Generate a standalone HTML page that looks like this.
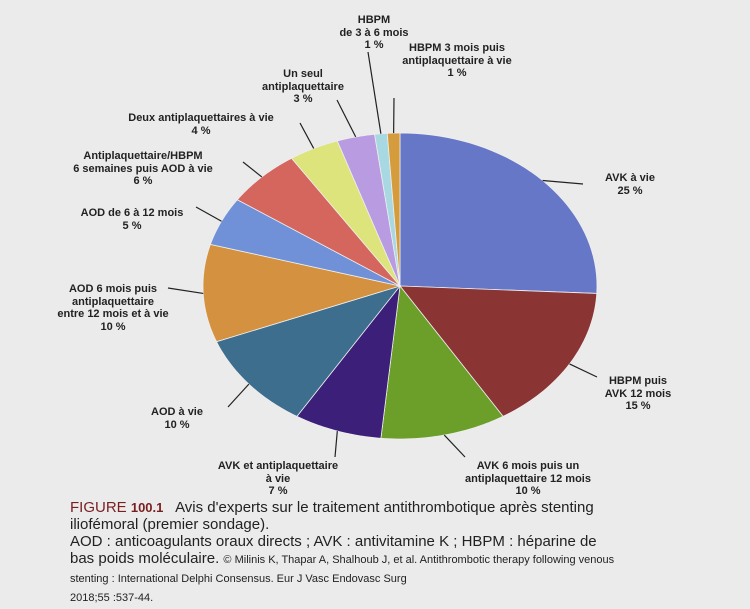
<!DOCTYPE html>
<html><head><meta charset="utf-8"><style>
body{margin:0;background:#ebebeb;}
#wrap{position:relative;width:750px;height:609px;background:#ebebeb;overflow:hidden;font-family:"Liberation Sans",sans-serif;}
.lbl{position:absolute;transform:translateX(-50%);text-align:center;font-size:11px;font-weight:bold;line-height:12.5px;color:#222;white-space:nowrap;}
#cap{position:absolute;left:70px;top:499px;width:552px;font-size:15px;line-height:17px;color:#222;}
#cap .sm{font-size:11px;}
</style></head><body>
<div id="wrap">
<svg id="chart" width="750" height="609" style="position:absolute;left:0;top:0"></svg>
<div id="labels"></div>
<div id="cap"><span style="color:#7a1f1f">FIGURE <b style="font-size:13px">100.1</b></span>&nbsp;&nbsp; Avis d'experts sur le traitement antithrombotique après stenting iliofémoral (premier sondage).<br>AOD : anticoagulants oraux directs ; AVK : antivitamine K ; HBPM : héparine de bas poids moléculaire. <span class="sm">© Milinis K, Thapar A, Shalhoub J, et al. Antithrombotic therapy following venous stenting : International Delphi Consensus. Eur J Vasc Endovasc Surg</span><br><span class="sm" style="line-height:18px">2018;55 :537-44.</span></div>
</div>
<script>
const categories=["AVK à vie","HBPM puis AVK 12 mois","AVK 6 mois puis un antiplaquettaire 12 mois","AVK et antiplaquettaire à vie","AOD à vie","AOD 6 mois puis antiplaquettaire entre 12 mois et à vie","AOD de 6 à 12 mois","Antiplaquettaire/HBPM 6 semaines puis AOD à vie","Deux antiplaquettaires à vie","Un seul antiplaquettaire","HBPM de 3 à 6 mois","HBPM 3 mois puis antiplaquettaire à vie"];
const values=[25,15,10,7,10,10,5,6,4,3,1,1];
const labelLines=[["AVK à vie"],["HBPM puis","AVK 12 mois"],["AVK 6 mois puis un","antiplaquettaire 12 mois"],["AVK et antiplaquettaire","à vie"],["AOD à vie"],["AOD 6 mois puis","antiplaquettaire","entre 12 mois et à vie"],["AOD de 6 à 12 mois"],["Antiplaquettaire/HBPM","6 semaines puis AOD à vie"],["Deux antiplaquettaires à vie"],["Un seul","antiplaquettaire"],["HBPM","de 3 à 6 mois"],["HBPM 3 mois puis","antiplaquettaire à vie"]];
const colors=["#6677c8","#8b3434","#6b9f2a","#3b1f78","#3d6e8e","#d4913f","#7090d8","#d4665e","#dde47c","#b89be0","#a8d8e2","#d49c3c"];
// layout (not data): label centre/top, leader line end
const layout=[[630,172,583,184],[638,375,597,377],[528,460,465,457],[278,460,335,457],[177,406,228,407],[113,283,168,288],[132,207,196,207],[143,150,243,162],[201,112,300,123],[303,68,337,100],[374,14,368,52],[457,42,394,98]];
const cx=400,cy=286,rx=197,ry=153;
const svg=document.getElementById('chart');const NS="http://www.w3.org/2000/svg";
const total=values.reduce((a,b)=>a+b,0);
function pt(a,s){return [cx+rx*s*Math.sin(a),cy-ry*s*Math.cos(a)];}
let a0=0;
values.forEach((v,i)=>{
 const a1=a0+v/total*2*Math.PI;
 let d=`M${cx},${cy}`;
 for(let k=0;k<=40;k++){const p=pt(a0+(a1-a0)*k/40,1);d+=`L${p[0].toFixed(2)},${p[1].toFixed(2)}`;}
 d+='Z';
 const p=document.createElementNS(NS,'path');
 p.setAttribute('d',d);p.setAttribute('fill',colors[i]);p.setAttribute('stroke','#eee');p.setAttribute('stroke-width','0.8');
 
 
 svg.appendChild(p);
 const m=pt((a0+a1)/2,1.0),L=layout[i];
 const ln=document.createElementNS(NS,'line');
 ln.setAttribute('x1',m[0]);ln.setAttribute('y1',m[1]);ln.setAttribute('x2',L[2]);ln.setAttribute('y2',L[3]);
 ln.setAttribute('stroke','#222');ln.setAttribute('stroke-width','1.2');
 
 
 svg.appendChild(ln);
 const div=document.createElement('div');div.className='lbl';
 div.style.left=L[0]+'px';div.style.top=L[1]+'px';
 div.innerHTML=labelLines[i].join('<br>')+'<br>'+values[i]+' %';
 
 
 document.getElementById('labels').appendChild(div);
 a0=a1;
});
</script>
</body></html>
